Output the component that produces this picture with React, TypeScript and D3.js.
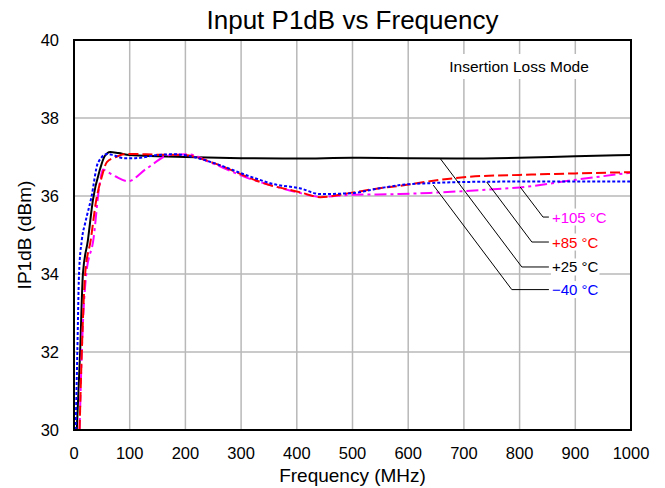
import { useEffect, useRef } from "react"
import * as d3 from "d3"

type Pt = [number, number]

const freqTicks = [0, 100, 200, 300, 400, 500, 600, 700, 800, 900, 1000]
const dbTicks = [30, 32, 34, 36, 38, 40]

// [MHz, dBm]
const plus25: Pt[] = [
  [5, 30], [8, 31], [11, 32], [16, 34], [25, 34.87], [34, 35.9], [47, 36.7], [55, 37.02],
  [65, 37.13], [80, 37.1], [100, 37.05], [150, 37.02], [200, 37.0], [300, 36.97],
  [400, 36.96], [500, 36.98], [600, 36.97], [700, 36.96], [800, 36.98], [900, 37.02], [1000, 37.05],
]
const minus40: Pt[] = [
  [3, 30], [6, 32], [9, 34], [14, 34.87], [20, 35.3], [31, 35.95], [43, 36.85], [60, 37.08],
  [70, 37.05], [90, 36.97], [110, 36.97], [150, 37.05], [180, 37.07], [220, 36.98],
  [250, 36.85], [316, 36.5], [360, 36.3], [405, 36.2], [442, 36.05], [496, 36.07],
  [549, 36.2], [585, 36.28], [639, 36.33], [700, 36.36], [800, 36.37], [900, 36.37], [1000, 36.37],
]
const plus85: Pt[] = [
  [10, 30], [14, 32], [20, 34], [30, 34.87], [40, 35.9], [50, 36.5], [59, 36.87],
  [75, 37.0], [95, 37.08], [150, 37.06], [196, 37.05], [250, 36.85], [316, 36.46],
  [334, 36.36], [405, 36.1], [442, 35.97], [496, 36.08], [549, 36.2], [585, 36.26],
  [639, 36.38], [729, 36.51], [800, 36.54], [900, 36.58], [1000, 36.61],
]
const plus105: Pt[] = [
  [10, 30], [14, 32], [22, 34], [35, 34.9], [45, 36.2], [52, 36.68], [60, 36.62],
  [75, 36.5], [97, 36.38], [130, 36.7], [172, 37.05], [203, 37.07], [250, 36.83],
  [316, 36.44], [360, 36.25], [405, 36.08], [442, 35.98], [496, 36.03], [585, 36.05],
  [639, 36.08], [729, 36.15], [800, 36.22], [908, 36.43], [1000, 36.6],
]

const series = [
  { name: "+25 °C", data: plus25, color: "#000000", dash: "none" },
  { name: "+105 °C", data: plus105, color: "#ff00ff", dash: "12,4,3,4" },
  { name: "+85 °C", data: plus85, color: "#ff0000", dash: "10,4" },
  { name: "−40 °C", data: minus40, color: "#0000ff", dash: "3,2" },
]

// leader: anchor on curve -> elbow -> label (data coords)
const callouts = [
  { text: "+105 °C", color: "#ff00ff", anchor: [801, 36.23], elbow: [842, 35.46] },
  { text: "+85 °C", color: "#ff0000", anchor: [741, 36.36], elbow: [822, 34.82] },
  { text: "+25 °C", color: "#000000", anchor: [657, 36.97], elbow: [804, 34.18] },
  { text: "−40 °C", color: "#0000ff", anchor: [645, 36.28], elbow: [786, 33.6] },
]
const labelFreq = 858

export default function App() {
  const svgRef = useRef<SVGSVGElement>(null)

  useEffect(() => {
    if (!svgRef.current) return
    const W = 665
    const H = 488
    const svg = d3.select(svgRef.current)
    svg.selectAll("*").remove()
    svg.attr("width", W).attr("height", H).attr("viewBox", `0 0 ${W} ${H}`)

    const left = 74
    const right = 631
    const top = 40
    const bottom = 430
    const font = "Liberation Sans, Arial, sans-serif"

    const x = d3.scaleLinear().domain([0, 1000]).range([left, right])
    const y = d3.scaleLinear().domain([30, 40]).range([bottom, top])

    // grid
    const grid = svg.append("g").attr("stroke", "#b8b8b8").attr("stroke-width", 1.5)
    grid.selectAll(".vx").data(freqTicks.slice(1, -1)).enter().append("line")
      .attr("x1", (d) => x(d)).attr("x2", (d) => x(d)).attr("y1", top).attr("y2", bottom)
    grid.selectAll(".hy").data(dbTicks.slice(1, -1)).enter().append("line")
      .attr("x1", left).attr("x2", right).attr("y1", (d) => y(d)).attr("y2", (d) => y(d))

    // "Insertion Loss Mode" box
    const ilText = svg.append("text").attr("x", 519).attr("y", 72).attr("text-anchor", "middle")
      .style("font-family", font).style("font-size", "15.5px").text("Insertion Loss Mode")
    const bb = (ilText.node() as SVGTextElement).getBBox()
    svg.insert("rect", "text").attr("x", bb.x - 4).attr("y", bb.y - 4).attr("width", bb.width + 8)
      .attr("height", bb.height + 8).attr("fill", "#fff")

    const line = d3.line<Pt>().x((d) => x(d[0])).y((d) => y(d[1])).curve(d3.curveMonotoneX)
    const clip = svg.append("clipPath").attr("id", "plotclip")
    clip.append("rect").attr("x", left).attr("y", top).attr("width", right - left).attr("height", bottom - top)

    const lines = svg.append("g").attr("clip-path", "url(#plotclip)")
    series.forEach((s) => {
      lines.append("path").attr("d", line(s.data) as string).attr("fill", "none")
        .attr("stroke", s.color).attr("stroke-width", 2)
        .attr("stroke-dasharray", s.dash)
    })

    // callouts
    const cg = svg.append("g")
    callouts.forEach((c) => {
      const ex = x(c.elbow[0])
      const ey = y(c.elbow[1])
      const lx = x(labelFreq)
      cg.append("polyline")
        .attr("points", `${x(c.anchor[0])},${y(c.anchor[1])} ${ex},${ey} ${lx - 3},${ey}`)
        .attr("fill", "none").attr("stroke", "#000").attr("stroke-width", 1)
      const t = cg.append("text").attr("x", lx).attr("y", ey + 5.5)
        .style("font-family", font).style("font-size", "15px").attr("fill", c.color).text(c.text)
      const b = (t.node() as SVGTextElement).getBBox()
      cg.insert("rect", () => t.node() as SVGTextElement).attr("x", b.x - 1).attr("y", b.y)
        .attr("width", b.width + 2).attr("height", b.height).attr("fill", "#fff")
    })

    // frame
    svg.append("rect").attr("x", left).attr("y", top).attr("width", right - left)
      .attr("height", bottom - top).attr("fill", "none").attr("stroke", "#000").attr("stroke-width", 2)

    // tick labels
    svg.selectAll(".xt").data(freqTicks).enter().append("text")
      .attr("x", (d) => x(d)).attr("y", bottom + 29).attr("text-anchor", "middle")
      .style("font-family", font).style("font-size", "16.5px").text((d) => d)
    svg.selectAll(".yt").data(dbTicks).enter().append("text")
      .attr("x", left - 15).attr("y", (d) => y(d) + 6).attr("text-anchor", "end")
      .style("font-family", font).style("font-size", "16.5px").text((d) => d)

    // titles
    svg.append("text").attr("x", (left + right) / 2).attr("y", 29).attr("text-anchor", "middle")
      .style("font-family", font).style("font-size", "26px").text("Input P1dB vs Frequency")
    svg.append("text").attr("x", (left + right) / 2).attr("y", 482).attr("text-anchor", "middle")
      .style("font-family", font).style("font-size", "19px").text("Frequency (MHz)")
    svg.append("text").attr("transform", `translate(31, ${(top + bottom) / 2}) rotate(-90)`)
      .attr("text-anchor", "middle")
      .style("font-family", font).style("font-size", "19px").text("IP1dB (dBm)")
  }, [])

  return (
    <div style={{ position: "absolute", left: 0, top: 0 }}>
      <svg ref={svgRef} style={{ display: "block", background: "#fff" }} />
    </div>
  )
}
